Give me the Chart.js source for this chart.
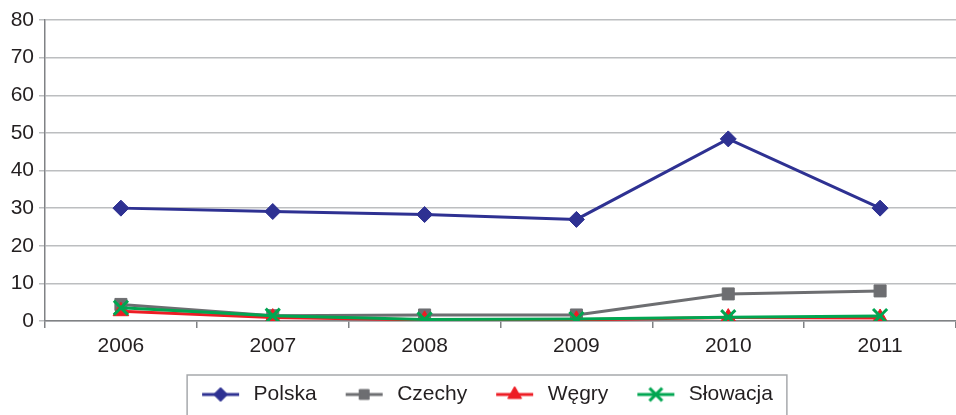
<!DOCTYPE html>
<html><head><meta charset="utf-8">
<script src="https://cdn.jsdelivr.net/npm/chart.js@4/dist/chart.umd.min.js"></script>
<style>html,body{margin:0;padding:0;background:#fff;}#wrap{width:956px;height:415px;}</style>
</head><body><div id="wrap"><canvas id="c" width="956" height="415"></canvas></div>
<script>
const categories = ['2006','2007','2008','2009','2010','2011'];
const polska   = [30, 29.1, 28.3, 27.0, 48.4, 30];
const czechy   = [4.4, 1.4, 1.6, 1.6, 7.2, 8.0];
const wegry    = [2.6, 0.9, 0.3, 0.3, 0.9, 0.8];
const slowacja = [3.5, 1.4, 0.4, 0.5, 1.0, 1.3];
const yTicks = [0,10,20,30,40,50,60,70,80];

const FONT = 'Liberation Sans, Arial, sans-serif';
const TXT = '#231f20';
const ICON_L = 19, ICON_LINE = 37, ICON_R = 4, ICON_W = ICON_L + ICON_LINE + ICON_R;

function legendIcon(color, style, radius) {
  const c = document.createElement('canvas');
  c.width = ICON_W; c.height = 18;
  const g = c.getContext('2d');
  g.strokeStyle = color; g.lineWidth = 3;
  g.beginPath(); g.moveTo(ICON_L, 9); g.lineTo(ICON_L + ICON_LINE, 9); g.stroke();
  g.fillStyle = color;
  g.lineWidth = style === 'crossRot' ? 3 : 1;
  Chart.helpers.drawPoint(g, {pointStyle: style, radius: radius, borderWidth: g.lineWidth, rotation: 0}, ICON_L + ICON_LINE / 2, 9);
  return c;
}

const series = [
  {label:'Polska', data:polska, color:'#2e3192', style:'rectRot', r:8, lr:7},
  {label:'Czechy', data:czechy, color:'#6d6e71', style:'rect', r:8.5, lr:7},
  {label:'Węgry', data:wegry, color:'#ed1c24', style:'triangle', r:9, lr:8},
  {label:'Słowacja', data:slowacja, color:'#00a651', style:'crossRot', r:10, lr:9},
];

const datasets = series.map((s, i) => ({
  label: s.label, data: s.data,
  borderColor: s.color, backgroundColor: s.color,
  pointBackgroundColor: s.color, pointBorderColor: s.color,
  pointStyle: s.style, pointRadius: s.r,
  pointBorderWidth: s.style==='crossRot' ? 3 : 1,
  borderWidth: 3, tension: 0, order: 4 - i,
  _s: s
}));

const legendBorder = {
  id: 'legendBorder',
  afterDraw(chart) {
    const lg = chart.legend;
    if (!lg || !lg.legendHitBoxes.length) return;
    const hb = lg.legendHitBoxes;
    const l = Math.min(...hb.map(h => h.left)) + ICON_L - 15;
    const r = Math.max(...hb.map(h => h.left + h.width)) + 14;
    const ctx = chart.ctx;
    ctx.save();
    ctx.strokeStyle = '#a7a9ac'; ctx.lineWidth = 1.5;
    ctx.strokeRect(l, lg.top + 1, r - l, chart.height + 10);
    ctx.restore();
  }
};

new Chart(document.getElementById('c'), {
  type: 'line',
  data: { labels: categories, datasets },
  plugins: [legendBorder],
  options: {
    responsive: false, animation: false,
    layout: { autoPadding: false, padding: { top: 20, right: 0, left: 0, bottom: 0 } },
    plugins: {
      tooltip: { enabled: false },
      legend: {
        position: 'bottom',
        labels: {
          font: { family: FONT, size: 21 }, color: TXT,
          usePointStyle: true, pointStyleWidth: ICON_W, boxHeight: 18,
          padding: 10,
          sort: (a, b) => a.datasetIndex - b.datasetIndex,
          generateLabels(chart) {
            return chart.data.datasets.map((d, i) => ({
              text: d.label, datasetIndex: i,
              pointStyle: legendIcon(d._s.color, d._s.style, d._s.lr),
              fillStyle: d._s.color, strokeStyle: d._s.color, lineWidth: 0,
              hidden: false, fontColor: TXT
            }));
          }
        }
      }
    },
    scales: {
      x: {
        offset: true,
        grid: { offset: true, drawOnChartArea: false, drawTicks: true, tickLength: 7, color: '#808285', lineWidth: 1.5 },
        border: { color: '#808285', width: 1.5 },
        ticks: { font: { family: FONT, size: 21 }, color: TXT, padding: 6, maxRotation: 0 },
        afterFit(s) { s.height = 53; }
      },
      y: {
        min: 0, max: 80,
        afterBuildTicks(s) { s.ticks = yTicks.map(v => ({ value: v })); },
        grid: { color: '#bcbec0', lineWidth: 1.5, tickLength: 6 },
        border: { color: '#808285', width: 1.5 },
        ticks: { font: { family: FONT, size: 21 }, color: TXT, padding: 5 },
        afterFit(s) { s.width = 45; }
      }
    }
  }
});
</script></body></html>
